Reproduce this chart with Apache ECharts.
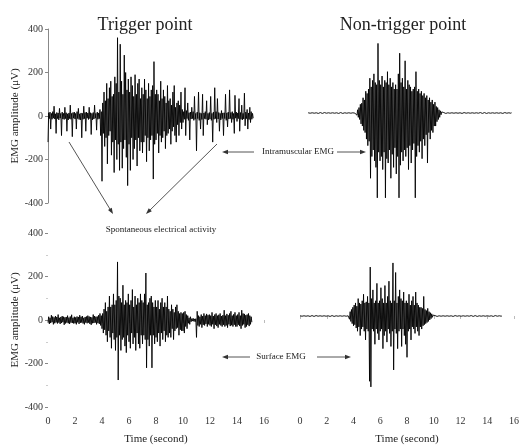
<!DOCTYPE html>
<html><head><meta charset="utf-8">
<script src="https://cdn.jsdelivr.net/npm/echarts@6/dist/echarts.min.js"></script>
<style>html,body{margin:0;padding:0;background:#fff}#c{width:522px;height:446px}</style>
</head><body><div id="c"></div>
<script>
// ---- data (µV, sampled every 0.05 s) ----
const STEP = 0.05;
const xTicks = [0, 2, 4, 6, 8, 10, 12, 14, 16];
const yTicks = [-400, -200, 0, 200, 400];

// Trigger point, intramuscular EMG (starts at 0 s)
const tlStart = 0;
const tlValues = [
  -120, 15, -12, 18, -60, 12, -15, 20, -10, 45, -14, 10, -80, 16, -12, 14, -18, 35, -10, 12,
  -90, 18, -14, 12, -16, 40, -12, 15, -70, 10, -18, 14, -12, 50, -15, 12, -95, 16, -10, 18,
  -14, 12, -60, 20, -12, 35, -16, 10, -18, 14, -100, 12, -15, 45, -12, 16, -70, 18, -10, 14,
  -16, 40, -12, 15, -85, 12, -18, 16, -14, 50, -10, 12, -65, 18, -15, 14, -12, 30, -90, 20,
  -300, 60, -80, 110, -140, 70, -100, 150, -220, 80, -90, 130, -70, 160, -180, 90, -120, 100, -260, 180,
  -110, 150, -200, 360, -130, 110, -250, 330, -120, 160, -240, 100, -150, 280, -110, 200, -190, 120, -320, 170,
  -130, 110, -250, 180, -100, 140, -200, 90, -150, 190, -110, 100, -230, 150, -100, 170, -160, 80, -120, 130,
  -170, 100, -120, 170, -90, 120, -210, 80, -100, 150, -160, 90, -110, 120, -90, 140, -290, 250, -130, 100,
  -110, 120, -80, 100, -170, 70, -90, 160, -120, 80, -100, 120, -70, 90, -150, 60, -90, 140, -80, 70,
  -60, 80, -130, 50, -70, 110, -50, 140, -90, 40, -120, 60, -40, 70, -90, 50, -30, 110, -60, 30,
  -30, 20, -15, 130, -90, 25, -12, 60, -20, 15, -110, 18, -14, 40, -12, 20, -20, 90, -15, 12,
  -160, 18, -12, 110, -20, 15, -60, 12, -16, 100, -90, 14, -12, 20, -15, 70, -40, 12, -18, 16,
  -14, 90, -20, 12, -120, 18, -15, 130, -12, 20, -30, 80, -14, 16, -70, 12, -18, 25, -12, 14,
  -90, 15, -12, 100, -20, 14, -50, 18, -14, 120, -12, 16, -30, 20, -15, 12, -80, 95, -10, 18,
  -25, 14, -12, 80, -70, 16, -15, 50, -18, 12, -14, 105, -45, 18, -12, 30, -60, 14, -16, 40,
  -30, 20, -15, 12, -10
];

// Non-trigger point, intramuscular EMG (starts at 0.6 s)
const trStart = 0.6;
const trValues = [
  1, -1, 2, -1, 1, -2, 1, -1, 1, -1, 2, -1, 1, -1, 1, -2, 1, -1, 2, -1,
  1, -2, 1, -1, 2, -1, 1, -1, 1, -2, 1, -1, 2, -1, 1, -1, 1, -2, 1, -1,
  2, -1, 1, -1, 1, -2, 1, -1, 2, -1, 1, -2, 1, -1, 1, -1, 2, -1, 1, -2,
  1, -1, 2, -1, 1, -1, 1, -2, 1, -1, 2, -1,
  -10, 15, -20, 25, -30, 40, -50, 45, -60, 70, -80, 60, -90, 100, -120, 90,
  -150, 110, -130, 160, -300, 120, -200, 150, -170, 180, -220, 140, -250, 130, -390, 320, -180, 150, -220, 130,
  -200, 170, -260, 120, -180, 150, -390, 140, -210, 190, -230, 130, -170, 160, -300, 120, -190, 140, -250, 110,
  -160, 130, -280, 110, -200, 180, -390, 275, -240, 140, -180, 160, -220, 120, -170, 240, -200, 110, -160, 150,
  -260, 130, -150, 120, -230, 100, -170, 110, -140, 120, -390, 190, -200, 100, -150, 110, -180, 90, -130, 100,
  -210, 80, -120, 90, -150, 70, -100, 80, -230, 60, -90, 70, -120, 50, -80, 60, -90, 40, -60, 50,
  -60, 30, -40, 25, -30, 15, -20, 10, -8, 5,
  1, -1, 2, -1, 1, -2, 1, -1, 1, -1, 2, -1, 1, -1, 1, -2, 1, -1, 2, -1,
  1, -2, 1, -1, 2, -1, 1, -1, 1, -2, 1, -1, 2, -1, 1, -1, 1, -2, 1, -1,
  2, -1, 1, -1, 1, -2, 1, -1, 2, -1, 1, -2, 1, -1, 1, -1, 2, -1, 1, -2,
  1, -1, 2, -1, 1, -2, 1, -1, 1, -1, 2, -1, 1, -1, 1, -2, 1, -1, 2, -1,
  1, -2, 1, -1, 2, -1, 1, -1, 1, -2, 1, -1, 2, -1, 1, -1, 1, -2, 1, -1,
  2, -1, 1
];

// Trigger point, surface EMG (starts at 0 s)
const blStart = 0;
const blValues = [
  -12, 15, -18, 10, -14, 22, -10, 16, -20, 12, -15, 18, -11, 14, -16, 25, -12, 10, -18, 14,
  -14, 18, -10, 15, -22, 12, -16, 14, -12, 20, -15, 11, -18, 16, -12, 24, -14, 10, -16, 15,
  -15, 12, -20, 16, -11, 14, -18, 22, -13, 15, -12, 18, -16, 10, -20, 14, -12, 16, -15, 20,
  -12, 16, -18, 14, -22, 12, -15, 25, -14, 18, -12, 15, -20, 16, -14, 22, -18, 30, -25, 20,
  -40, 30, -60, 50, -45, 80, -70, 40, -100, 60, -50, 110, -80, 60, -130, 70, -60, 120, -90, 70,
  -140, 90, -80, 267, -276, 110, -70, 100, -140, 80, -90, 160, -80, 70, -120, 90, -150, 80, -70, 120,
  -100, 70, -130, 90, -60, 140, -110, 60, -80, 110, -140, 70, -60, 100, -110, 80, -130, 120, -70, 90,
  -110, 80, -70, 120, -90, 216, -220, 70, -90, 80, -120, 100, -70, 110, -220, 80, -70, 60, -110, 90,
  -80, 60, -100, 90, -60, 50, -120, 80, -60, 100, -90, 60, -50, 80, -100, 60, -70, 110, -80, 50,
  -60, 40, -80, 70, -40, 50, -90, 35, -50, 60, -40, 70, -35, 40, -70, 30, -45, 35, -50, 30,
  -50, 35, -60, 40, -30, 25, -40, 20, -15, 10, -20, 15, -8, 6, -5, 8, -6, 5, -8, 6,
  -80, 40, -25, 20, -30, 15, -20, 25, -35, 18, -22, 30, -25, 20, -18, 28, -30, 22, -20, 25,
  -25, 20, -30, 35, -20, 18, -40, 25, -22, 30, -28, 20, -35, 24, -20, 30, -25, 18, -30, 22,
  -22, 45, -30, 20, -25, 28, -35, 22, -20, 30, -28, 40, -24, 20, -30, 26, -22, 35, -30, 20,
  -30, 25, -22, 35, -28, 20, -40, 45, -25, 30, -20, 28, -35, 22, -30, 25, -22, 30, -28, 20,
  -20, 15, -10
];

// Non-trigger point, surface EMG (starts at 0 s)
const brStart = 0;
const brValues = [
  1, -1, 2, -1, 1, -2, 1, -1, 1, -1, 2, -1, 1, -1, 1, -2, 1, -1, 2, -1,
  1, -2, 1, -1, 2, -1, 1, -1, 1, -2, 1, -1, 2, -1, 1, -1, 1, -2, 1, -1,
  2, -1, 1, -1, 1, -2, 1, -1, 2, -1, 1, -2, 1, -1, 1, -1, 2, -1, 1, -2,
  1, -1, 2, -1, 1, -1, 1, -2, 1, -1, 2, -1, 1, -1,
  -15, 20, -25, 30, -35, 40,
  -45, 50, -40, 60, -55, 45, -70, 80, -50, 60, -90, 55, -60, 70, -50, 100, -70, 60, -110, 65,
  -60, 90, -70, 60, -300, 225, -326, 80, -60, 120, -70, 60, -130, 70, -60, 150, -80, 60, -110, 70,
  -70, 130, -60, 80, -150, 60, -90, 140, -70, 60, -120, 90, -60, 160, -80, 70, -140, 60, -70, 244,
  -248, 70, -60, 200, -80, 60, -150, 90, -70, 120, -60, 80, -140, 70, -60, 110, -90, 60, -130, 70,
  -190, 60, -70, 100, -60, 50, -110, 70, -50, 90, -60, 50, -80, 110, -50, 60, -70, 50, -90, 40,
  -50, 40, -60, 35, -45, 90, -40, 30, -35, 25, -30, 35, -25, 20, -18, 15, -12, 10, -6, 4,
  1, -1, 2, -1, 1, -2, 1, -1, 1, -1, 2, -1, 1, -1, 1, -2, 1, -1, 2, -1,
  1, -2, 1, -1, 2, -1, 1, -1, 1, -2, 1, -1, 2, -1, 1, -1, 1, -2, 1, -1,
  2, -1, 1, -1, 1, -2, 1, -1, 2, -1, 1, -2, 1, -1, 1, -1, 2, -1, 1, -2,
  1, -1, 2, -1, 1, -2, 1, -1, 1, -1, 2, -1, 1, -1, 1, -2, 1, -1, 2, -1,
  1, -2, 1, -1, 2, -1, 1, -1, 1, -2, 1, -1, 2, -1, 1, -1, 1, -2, 1, -1,
  2, -1, 1
];

// ---- chart ----
function pairs(start, vals) {
  return vals.map((v, i) => [Math.round((start + i * STEP) * 1000) / 1000, v]);
}
const SERIF = '"Liberation Serif", "DejaVu Serif", serif';
const chart = echarts.init(document.getElementById('c'), null, {renderer: 'canvas'});

const grids = [
  {left: 48, top: 29, width: 216, height: 174},
  {left: 300, top: 26, width: 217, height: 174},
  {left: 48, top: 233, width: 216, height: 174},
  {left: 300, top: 229, width: 217, height: 174}
];

function xAxis(i, show, offset) {
  return {
    type: 'value', gridIndex: i, min: 0, max: 16, interval: 2, show: show,
    offset: offset || 0,
    axisLine: {show: false},
    axisTick: {show: true, length: 3, lineStyle: {color: '#bbb'}},
    axisLabel: {show: true, margin: 9, fontFamily: SERIF, fontSize: 10, color: '#333',
      customValues: xTicks},
    splitLine: {show: false},
    name: 'Time (second)', nameLocation: 'middle', nameGap: 27,
    nameTextStyle: {fontFamily: SERIF, fontSize: 11, color: '#222'}
  };
}
function yAxis(i, show, lineShow) {
  return {
    type: 'value', gridIndex: i, min: -400, max: 400, interval: 200, show: show,
    axisLine: {show: lineShow, lineStyle: {color: '#888', width: 1}},
    axisTick: {show: true, length: 3, lineStyle: {color: '#888'}},
    minorTick: {show: !lineShow, splitNumber: 2, length: 2, lineStyle: {color: '#ccc'}},
    axisLabel: {margin: 5, fontFamily: SERIF, fontSize: 10, color: '#333', customValues: yTicks},
    splitLine: {show: false},
    name: 'EMG amplitude (\u03bcV)', nameLocation: 'middle', nameGap: 26, nameRotate: 90,
    nameTextStyle: {fontFamily: SERIF, fontSize: 11, color: '#222'}
  };
}

function arrowGfx(x1, y1, x2, y2) {
  const a = Math.atan2(y2 - y1, x2 - x1), L = 6, W = 2.2;
  const c = Math.cos(a), s = Math.sin(a);
  return [
    {type: 'line', shape: {x1: x1, y1: y1, x2: x2 - c * 3, y2: y2 - s * 3},
      style: {stroke: '#555', lineWidth: 1}},
    {type: 'polygon', shape: {points: [[x2, y2],
      [x2 - L * c + W * s, y2 - L * s - W * c],
      [x2 - L * c - W * s, y2 - L * s + W * c]]},
      style: {fill: '#333'}}
  ];
}
function txt(x, y, t, size, align) {
  return {type: 'text', x: x, y: y, style: {text: t, font: size + 'px ' + SERIF,
    fill: '#222', textAlign: align || 'center', textVerticalAlign: 'middle'}};
}

const lineStyle = {color: '#000', width: 0.9};
const mk = (i, data) => ({type: 'line', xAxisIndex: i, yAxisIndex: i, data: data,
  showSymbol: false, symbol: 'none', lineStyle: lineStyle, animation: false,
  sampling: null, silent: true});

chart.setOption({
  animation: false,
  backgroundColor: '#fff',
  grid: grids,
  xAxis: [xAxis(0, false), xAxis(1, false), xAxis(2, true), xAxis(3, true, 4)],
  yAxis: [yAxis(0, true, true), yAxis(1, false, false), yAxis(2, true, false), yAxis(3, false, false)],
  series: [
    mk(0, pairs(tlStart, tlValues)),
    mk(1, pairs(trStart, trValues)),
    mk(2, pairs(blStart, blValues)),
    mk(3, pairs(brStart, brValues))
  ],
  graphic: [
    txt(145, 25, 'Trigger point', 18),
    txt(403, 25, 'Non-trigger point', 18),
    txt(298, 152, 'Intramuscular EMG', 9),
    txt(161, 230, 'Spontaneous electrical activity', 9),
    txt(281, 357, 'Surface EMG', 9),
    ...arrowGfx(254, 152, 222, 152),
    ...arrowGfx(337, 152, 366, 152),
    ...arrowGfx(69, 142, 113, 214),
    ...arrowGfx(217, 144, 146, 214),
    ...arrowGfx(250, 357, 222, 357),
    ...arrowGfx(317, 357, 351, 357)
  ]
});
</script></body></html>
